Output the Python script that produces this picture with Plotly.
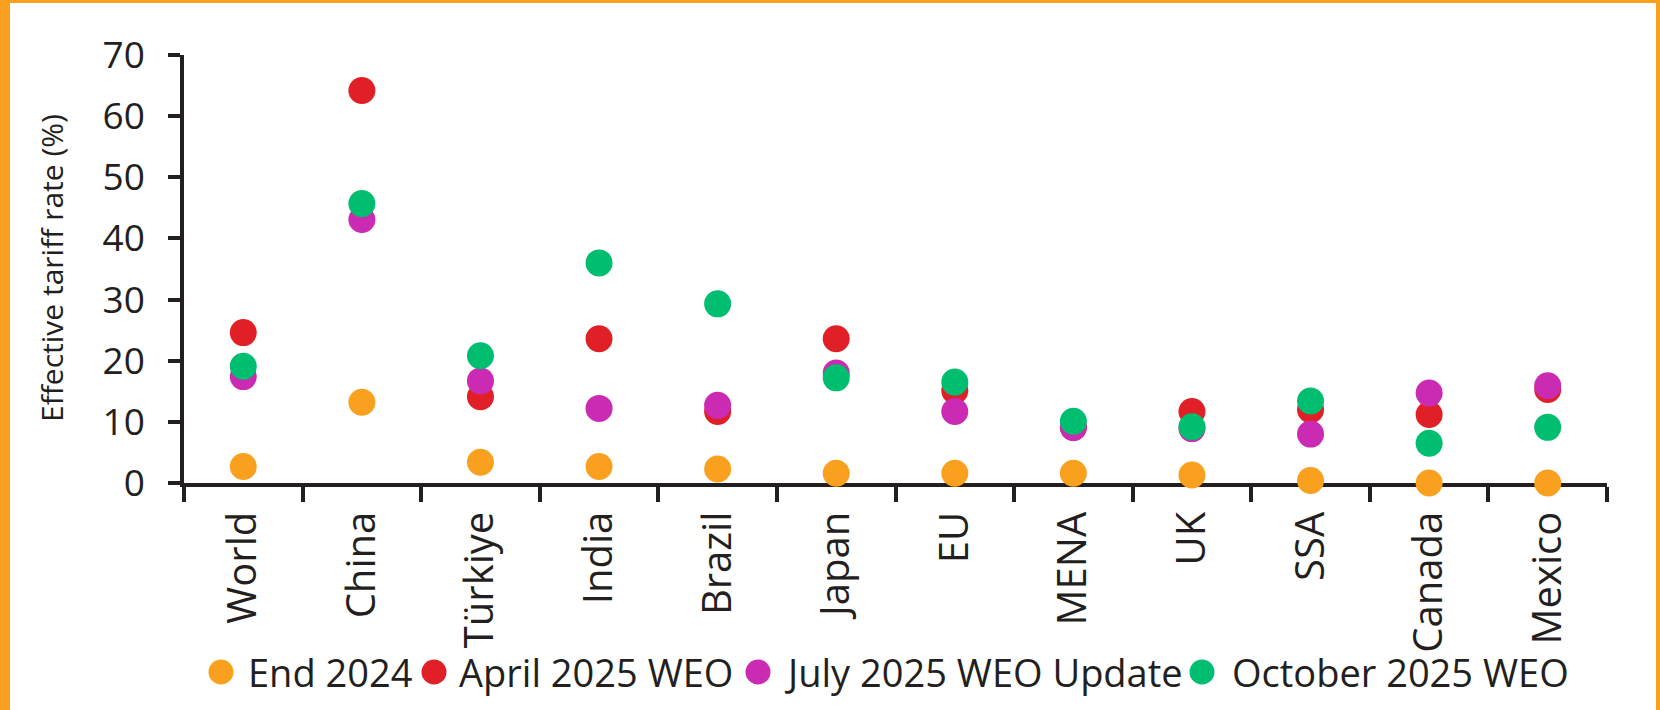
import plotly.graph_objects as go

categories = ["World", "China", "Türkiye", "India", "Brazil", "Japan",
              "EU", "MENA", "UK", "SSA", "Canada", "Mexico"]
end_2024 = [2.7, 13.2, 3.4, 2.7, 2.3, 1.6, 1.6, 1.6, 1.3, 0.4, 0.0, 0.0]
apr_2025 = [24.6, 64.2, 14.1, 23.6, 11.7, 23.6, 15.1, 9.1, 11.7, 12.0, 11.2, 15.3]
jul_2025 = [17.4, 43.1, 16.7, 12.2, 12.7, 18.0, 11.7, 9.1, 8.9, 8.0, 14.7, 15.9]
oct_2025 = [19.1, 45.7, 20.8, 36.0, 29.3, 17.2, 16.5, 10.1, 9.2, 13.4, 6.5, 9.1]

series_names = ["End 2024", "April 2025 WEO", "July 2025 WEO Update", "October 2025 WEO"]
series_values = [end_2024, apr_2025, jul_2025, oct_2025]
colors = ["#F9A11F", "#E11F26", "#CB2AB3", "#00BE70"]

W, H = 1660, 710
L, R, T, B = 184, 53, 55, 227
INK = "#231F20"
FONT = "Open Sans, Noto Sans, sans-serif"


def px(x):
    return (x - L) / (W - L - R)


def py(y):
    return (H - B - y) / (H - T - B)


fig = go.Figure()
for name, vals, col in zip(series_names, series_values, colors):
    fig.add_trace(go.Scatter(
        x=categories, y=vals, mode="markers", name=name,
        marker=dict(size=27, color=col, line=dict(width=0)),
        cliponaxis=False, showlegend=False,
    ))

fig.update_xaxes(
    type="category", range=[-0.5, len(categories) - 0.5],
    tickson="boundaries", ticks="outside", ticklen=15, tickwidth=3.5,
    tickcolor=INK, showline=True, linewidth=3.5, linecolor=INK,
    tickangle=-90, tickfont=dict(family=FONT, size=40, color=INK),
    ticklabelstandoff=9,
    showgrid=False, zeroline=False, layer="below traces",
)
fig.update_yaxes(
    range=[0, 70], dtick=10, ticks="outside", ticklen=12, tickwidth=3.5,
    tickcolor=INK, showline=True, linewidth=3.5, linecolor=INK,
    tickfont=dict(family=FONT, size=37, color=INK),
    ticklabelstandoff=16,
    showgrid=False, zeroline=False, layer="below traces",
)

# y axis title
fig.add_annotation(
    text="Effective tariff rate (%)", textangle=-90, showarrow=False,
    xref="paper", yref="paper", x=px(51), y=py(268),
    xanchor="center", yanchor="middle",
    font=dict(family=FONT, size=30, color=INK),
)

# legend row: big dots + labels
dot_x = [221, 434, 758, 1202]
text_x = [246, 457, 782, 1230]
leg_y = 672
for name, col, dx, tx in zip(series_names, colors, dot_x, text_x):
    fig.add_shape(
        type="circle", xref="paper", yref="paper",
        xsizemode="pixel", ysizemode="pixel",
        xanchor=px(dx), yanchor=py(leg_y),
        x0=-12.5, x1=12.5, y0=-12.5, y1=12.5,
        fillcolor=col, line=dict(width=0),
    )
    fig.add_annotation(
        text=name, showarrow=False, xref="paper", yref="paper",
        x=px(tx), y=py(leg_y), xanchor="left", yanchor="middle",
        font=dict(family=FONT, size=38, color=INK),
    )

# orange frame (left, top, right)
for x0, x1, y0, y1 in [(0, 10, 0, H), (0, W, 0, 3), (1656, W, 0, H)]:
    fig.add_shape(
        type="rect", xref="paper", yref="paper",
        x0=px(x0), x1=px(x1), y0=py(y1), y1=py(y0),
        fillcolor="#F9A11F", line=dict(width=0), layer="below",
    )

fig.update_layout(
    width=W, height=H,
    margin=dict(l=L, r=R, t=T, b=B),
    paper_bgcolor="white", plot_bgcolor="white",
    showlegend=False,
)

fig.write_html("out.html", config={"displayModeBar": False},
               post_script="document.body.style.margin='0';")
